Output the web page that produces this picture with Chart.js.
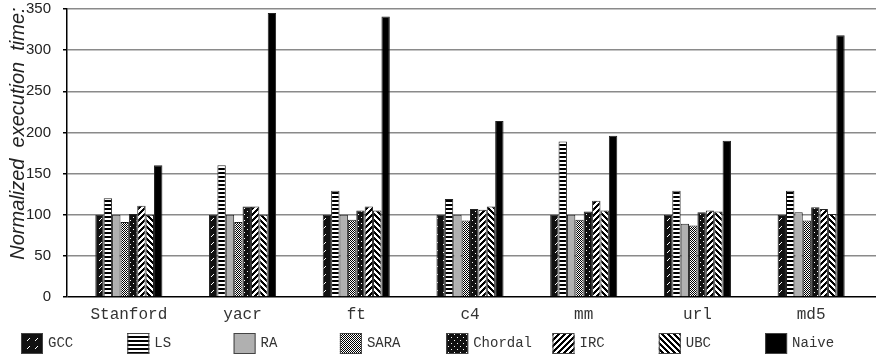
<!DOCTYPE html>
<html><head><meta charset="utf-8">
<script src="https://cdn.jsdelivr.net/npm/chart.js@4"></script>
<style>html,body{margin:0;padding:0;background:#fff}#wrap{width:876px;height:357px;position:relative}</style>
</head><body><div id="wrap"><canvas id="c" width="876" height="357"></canvas></div>
<script>
const categories = ["Stanford","yacr","ft","c4","mm","url","md5"];
const seriesNames = ["GCC","LS","RA","SARA","Chordal","IRC","UBC","Naive"];
const GCC     = [100,100,100,100,100,100,100];
const LS      = [120,160,129,119,189,129,129];
const RA      = [100,100,100,100,100, 89,103];
const SARA    = [ 91, 91, 94, 93, 94, 87, 93];
const Chordal = [101,110,105,107,104,103,109];
const IRC     = [111,110,110,106,117,105,107];
const UBC     = [100,100,105,110,105,104,101];
const Naive   = [160,345,341,214,196,190,318];
const yTicks  = [0,50,100,150,200,250,300,350];

const canvas = document.getElementById('c');
const ctx0 = canvas.getContext('2d');
function pat(w,h,draw){const c=document.createElement('canvas');c.width=w;c.height=h;const x=c.getContext('2d');draw(x,w,h);return ctx0.createPattern(c,'repeat');}
const patterns = [
  pat(8,8,(x)=>{x.fillStyle='#111';x.fillRect(0,0,8,8);x.fillStyle='#fff';x.fillRect(5,2,1,1);x.fillRect(4,3,1,1);x.fillRect(3,4,1,1);}),
  pat(4,4,(x)=>{x.fillStyle='#fff';x.fillRect(0,0,4,4);x.fillStyle='#000';x.fillRect(0,0,4,2);}),
  '#b0b0b0',
  pat(2,2,(x)=>{x.fillStyle='#fff';x.fillRect(0,0,2,2);x.fillStyle='#000';x.fillRect(0,0,1,1);x.fillRect(1,1,1,1);}),
  pat(6,6,(x)=>{x.fillStyle='#111';x.fillRect(0,0,6,6);x.fillStyle='#fff';x.fillRect(1,1,1,1);x.fillRect(4,4,1,1);}),
  pat(6,6,(x)=>{for(let i=0;i<6;i++)for(let j=0;j<6;j++){x.fillStyle=((i+j)%6)<3?'#fff':'#000';x.fillRect(i,j,1,1);}}),
  pat(6,6,(x)=>{for(let i=0;i<6;i++)for(let j=0;j<6;j++){x.fillStyle=((i-j+60)%6)<3?'#fff':'#000';x.fillRect(i,j,1,1);}}),
  '#000'
];
const seriesData = [GCC,LS,RA,SARA,Chordal,IRC,UBC,Naive];

const legendPlugin = {
  id:'patLegend',
  afterLayout(chart){
    // plot area top at 9px; categories occupy a slightly narrower band than the gridlines
    const y = chart.scales.y;
    chart.chartArea.top = 9;
    y.top = 9; y.height = y.bottom - y.top;
    y.configure();
    const x = chart.scales.x;
    x.left = 72; x.right = 868; x.width = x.right - x.left;
    x.configure();
  },
  afterDraw(chart){
    const c = chart.ctx;
    c.save();
    seriesNames.forEach((n,i)=>{
      const bx = 21 + i*106.3, by = 333, bw = 22, bh = 21;
      c.fillStyle = patterns[i];
      c.fillRect(bx,by,bw,bh);
      c.strokeStyle = '#444'; c.lineWidth = 1;
      c.strokeRect(bx+0.5,by+0.5,bw-1,bh-1);
      c.fillStyle = '#333';
      c.font = '14px "Courier New","Liberation Mono",monospace';
      c.textBaseline = 'middle';
      c.fillText(n, bx+bw+5, by+bh/2);
    });
    c.restore();
  }
};

new Chart(canvas, {
  type:'bar',
  data:{
    labels: categories,
    datasets: seriesNames.map((n,i)=>({
      label:n, data:seriesData[i], backgroundColor:patterns[i],
      borderColor:'#222', borderWidth:1,
      categoryPercentage:0.59, barPercentage:1.0
    }))
  },
  options:{
    responsive:false, animation:false,
    layout:{padding:{top:0,right:0,bottom:30,left:0}},
    plugins:{legend:{display:false}, tooltip:{enabled:false}},
    scales:{
      x:{
        grid:{display:false, drawTicks:false},
        border:{display:false},
        ticks:{color:'#333', padding:8, font:{family:'"Courier New","Liberation Mono",monospace', size:16}},
        afterFit(s){ s.height = 30; }
      },
      y:{
        min:0, max:350,
        afterBuildTicks(s){ s.ticks = yTicks.map(v=>({value:v})); },
        grid:{color:(c)=>c.tick && c.tick.value===0 ? '#000' : '#8a8a8a', lineWidth:1.5, tickLength:4, tickColor:'#000'},
        border:{color:'#000', width:1.5},
        ticks:{color:'#222', padding:12, font:{family:'"Liberation Sans Narrow","Liberation Sans",Arial,sans-serif', size:15}},
        title:{display:true, text:'       Normalized  execution  time:', color:'#222', padding:{top:6,bottom:0},
          font:{family:'"Liberation Sans",Arial,sans-serif', size:20, style:'italic'}},
        afterFit(s){ s.width = 67; }
      }
    }
  },
  plugins:[legendPlugin]
});
</script></body></html>
